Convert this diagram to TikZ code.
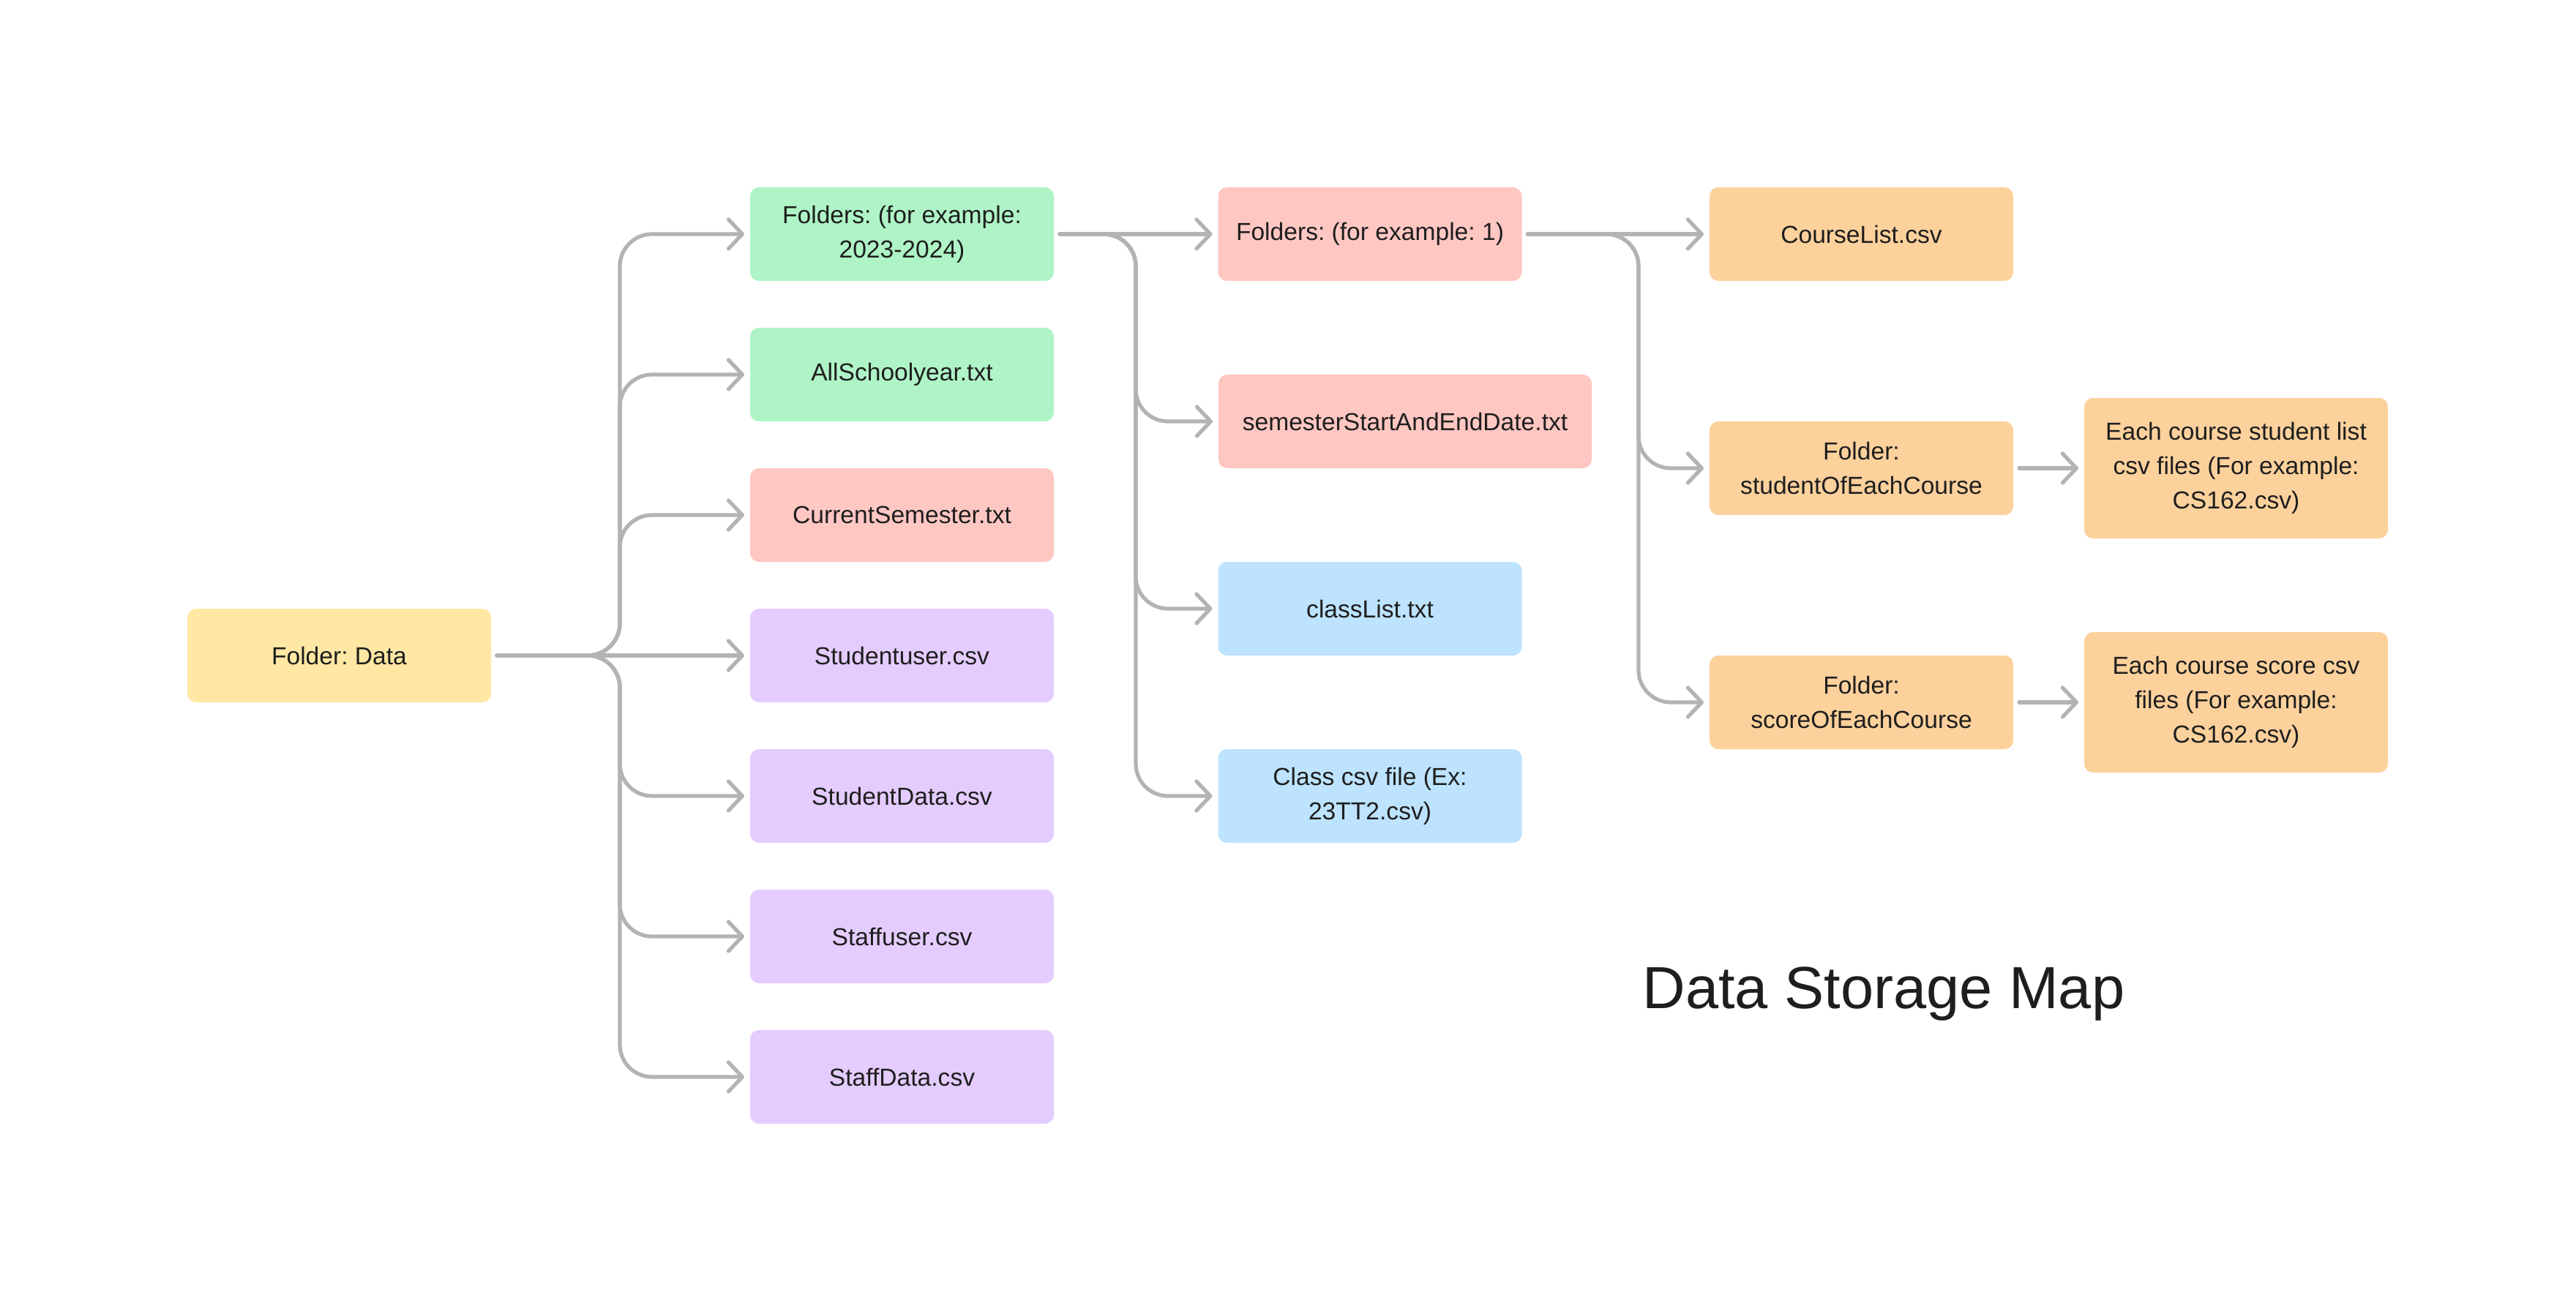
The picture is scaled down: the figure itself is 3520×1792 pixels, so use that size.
\documentclass[tikz,border=0pt]{standalone}
\usepackage{fontspec}
\setmainfont{Liberation Sans}
\frenchspacing
\usetikzlibrary{arrows.meta}
\definecolor{cyellow}{HTML}{FFE8A3}
\definecolor{cgreen}{HTML}{AFF4C6}
\definecolor{cpink}{HTML}{FFC7C2}
\definecolor{cpurple}{HTML}{E4CCFF}
\definecolor{cblue}{HTML}{BDE3FF}
\definecolor{corange}{HTML}{FCD19C}
\definecolor{cline}{HTML}{B3B3B3}
\definecolor{ctext}{HTML}{1E1E1E}
\tikzset{
  box/.style={rectangle, rounded corners=6pt, minimum width=207.5pt, minimum height=64pt,
    inner sep=0pt, outer xsep=4pt, outer ysep=0pt, align=center, text=ctext,
    font=\fontsize{16.8}{23.5}\selectfont},
  conn/.style={draw=cline, line width=2.6pt, rounded corners=22pt, line cap=round,
    -{Straight Barb[length=9.5pt,width=20pt,round]}},
}
\begin{document}
\begin{tikzpicture}[x=0.5pt,y=-0.5pt]
\useasboundingbox[fill=white] (0,0) rectangle (3520,1792);
% column 1
\node[box, fill=cyellow] (data) at (463.5,896) {Folder: Data};
% column 2
\node[box, fill=cgreen]  (yr)   at (1232.5,320)  {Folders: (for example:\\2023-2024)};
\node[box, fill=cgreen]  (all)  at (1232.5,512)  {AllSchoolyear.txt};
\node[box, fill=cpink]   (cur)  at (1232.5,704)  {CurrentSemester.txt};
\node[box, fill=cpurple] (su)   at (1232.5,896)  {Studentuser.csv};
\node[box, fill=cpurple] (sd)   at (1232.5,1088) {StudentData.csv};
\node[box, fill=cpurple] (fu)   at (1232.5,1280) {Staffuser.csv};
\node[box, fill=cpurple] (fd)   at (1232.5,1472) {StaffData.csv};
% column 3
\node[box, fill=cpink]   (sem)  at (1872,320)  {Folders: (for example: 1)};
\node[box, fill=cpink, minimum width=255pt] (dates) at (1920,576) {semesterStartAndEndDate.txt};
\node[box, fill=cblue]   (cl)   at (1872,832)  {classList.txt};
\node[box, fill=cblue]   (ccsv) at (1872,1088) {Class csv file (Ex:\\23TT2.csv)};
% column 4
\node[box, fill=corange] (course) at (2543.5,320) {CourseList.csv};
\node[box, fill=corange] (soec)   at (2543.5,640) {Folder:\\studentOfEachCourse};
\node[box, fill=corange] (scoec)  at (2543.5,960) {Folder:\\scoreOfEachCourse};
% column 5
\node[box, fill=corange, minimum height=96pt] (slist) at (3055.5,640) {Each course student list\\csv files (For example:\\CS162.csv)};
\node[box, fill=corange, minimum height=96pt] (sscore) at (3055.5,960) {Each course score csv\\files (For example:\\CS162.csv)};
% title
\node[anchor=base west, inner sep=0pt, text=ctext, font=\fontsize{40.6}{48}\selectfont] (title) at (2244,1378) {Data Storage Map};
% trunks
\coordinate (t1) at (847,0);
\coordinate (t2) at (1552,0);
\coordinate (t3) at (2239,0);
% connectors: Data -> column 2
\foreach \n in {yr,all,cur,sd,fu,fd}
  \draw[conn] (data.east) -| (t1 |- \n.west) -- (\n.west);
\draw[conn] (data.east) -- (su.west);
% year folder -> column 3
\draw[conn] (yr.east) -- (sem.west);
\foreach \n in {dates,cl,ccsv}
  \draw[conn] (yr.east) -| (t2 |- \n.west) -- (\n.west);
% semester folder -> column 4
\draw[conn] (sem.east) -- (course.west);
\foreach \n in {soec,scoec}
  \draw[conn] (sem.east) -| (t3 |- \n.west) -- (\n.west);
% column 4 -> column 5
\draw[conn] (soec.east) -- (slist.west);
\draw[conn] (scoec.east) -- (sscore.west);
\end{tikzpicture}
\end{document}
